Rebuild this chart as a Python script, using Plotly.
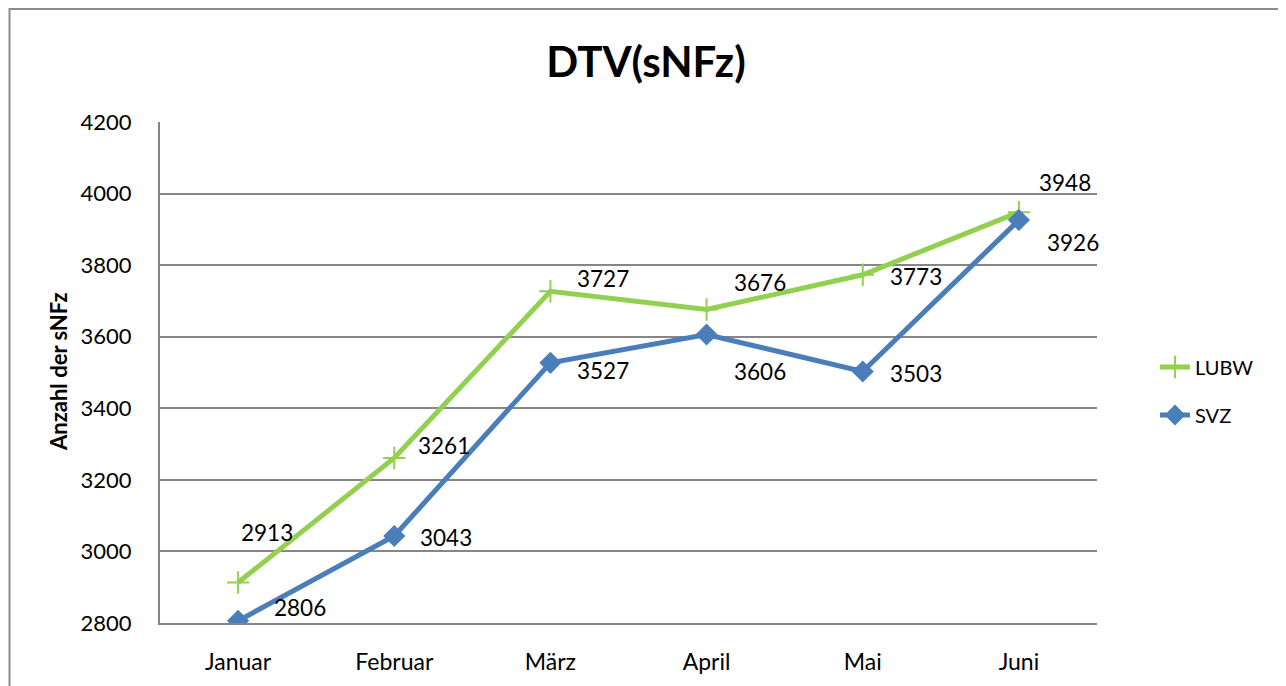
import plotly.graph_objects as go

months = ["Januar", "Februar", "März", "April", "Mai", "Juni"]
lubw = [2913, 3261, 3727, 3676, 3773, 3948]
svz = [2806, 3043, 3527, 3606, 3503, 3926]
y_ticks = [2800, 3000, 3200, 3400, 3600, 3800, 4000, 4200]

# label offsets in pixels (dx, dy) relative to point
lubw_off = [(29, 50), (50, 13), (53, 13), (53, 27), (53, -2), (46, 30)]
svz_off = [(62, 13), (52, -1), (53, -8), (53, -37), (53, -2), (54, -22)]

FONT = "Lato, Carlito, Calibri, sans-serif"
GREEN = "#92D050"
BLUE = "#4A7EBB"
GRID = "#868686"

# page body has an 8px offset; figure coords = screen coords - 8
OFF = 8
W, H = 1286 - OFF, 686 - OFF
PL, PR, PT, PB = 160 - OFF, 1097 - OFF, 122 - OFF, 623 - OFF
PW, PH = PR - PL, PB - PT

def px(x):
    return (x - OFF - PL) / PW

def py(y):
    return (PB - (y - OFF)) / PH

fig = go.Figure()
fig.add_trace(go.Scatter(
    x=months, y=lubw, name="LUBW", mode="lines+markers",
    line=dict(color=GREEN, width=5),
    marker=dict(symbol="cross-thin", size=16, line=dict(color=GREEN, width=2)),
    legendgroup="a",
))
fig.add_trace(go.Scatter(
    x=months, y=svz, name="SVZ", mode="lines+markers",
    line=dict(color=BLUE, width=5),
    marker=dict(symbol="diamond", size=17, color=BLUE),
    legendgroup="b",
))

annotations = []
for m, v, (dx, dy) in zip(months, lubw, lubw_off):
    annotations.append(dict(x=m, y=v, xref="x", yref="y", text=str(v), showarrow=False,
                            xshift=dx, yshift=dy, font=dict(family=FONT, size=22.5, color="black")))
for m, v, (dx, dy) in zip(months, svz, svz_off):
    annotations.append(dict(x=m, y=v, xref="x", yref="y", text=str(v), showarrow=False,
                            xshift=dx, yshift=dy, font=dict(family=FONT, size=22.5, color="black")))

annotations.append(dict(x=px(58), y=py(372), xref="paper", yref="paper", xanchor="center",
                        yanchor="middle",
                        text="<b>Anzahl der sNFz</b>", textangle=-90, showarrow=False,
                        font=dict(family=FONT, size=22, color="black")))

fig.update_layout(
    width=W, height=H,
    margin=dict(l=PL, r=W - PR, t=PT, b=H - PB),
    paper_bgcolor="white", plot_bgcolor="white",
    title=dict(text="<b>DTV(sNFz)</b>", x=(646 - OFF) / W, xanchor="center",
               y=1 - (62 - OFF) / H, yanchor="middle",
               font=dict(family=FONT, size=42, color="black")),
    font=dict(family=FONT, size=20, color="black"),
    showlegend=True,
    legend=dict(x=px(1155), xanchor="left", y=py(391), yanchor="middle",
                font=dict(family=FONT, size=20, color="black"), tracegroupgap=19,
                bgcolor="rgba(0,0,0,0)"),
    annotations=annotations,
    shapes=[dict(type="rect", xref="paper", yref="paper",
                 x0=px(9.5), x1=px(1300),
                 y0=py(700), y1=py(9),
                 line=dict(color="#8C8C8C", width=2), fillcolor="rgba(0,0,0,0)", layer="below")],
)
fig.update_xaxes(type="category", range=[-0.5, 5.5], showgrid=False,
                 showline=True, linecolor=GRID, linewidth=2,
                 ticks="outside", ticklen=17, tickcolor="rgba(0,0,0,0)",
                 tickfont=dict(family=FONT, size=23, color="black"))
fig.update_yaxes(range=[2800, 4200], tickvals=y_ticks, showgrid=True, gridcolor=GRID, gridwidth=2,
                 showline=True, linecolor=GRID, linewidth=2, zeroline=False,
                 ticks="outside", ticklen=22, tickcolor="rgba(0,0,0,0)",
                 tickfont=dict(family=FONT, size=22, color="black"))

fig.write_html("out.html")
